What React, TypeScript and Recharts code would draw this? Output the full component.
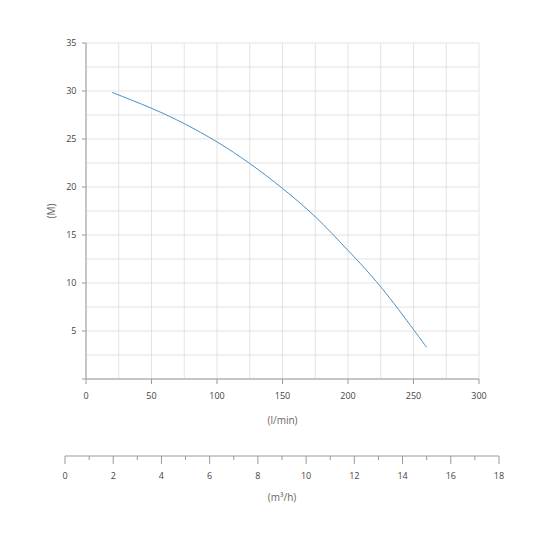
import React from 'react';
import { LineChart, Line, XAxis, YAxis, CartesianGrid } from 'recharts';

// pump curve: flow (l/min) vs head (M)
const flowLpm = [20, 50, 75, 100, 125, 150, 175, 200, 225, 250, 260];
const headM = [29.85, 28.2, 26.6, 24.7, 22.45, 19.85, 16.9, 13.4, 9.6, 5.15, 3.3];

const flowTicks = [0, 25, 50, 75, 100, 125, 150, 175, 200, 225, 250, 275, 300];
const headTicks = [0, 2.5, 5, 7.5, 10, 12.5, 15, 17.5, 20, 22.5, 25, 27.5, 30, 32.5, 35];
const cubicTicks = [0, 1, 2, 3, 4, 5, 6, 7, 8, 9, 10, 11, 12, 13, 14, 15, 16, 17, 18];

const chartData = flowLpm.map((q, i) => ({ flow: q, head: headM[i] }));

const FONT = '"Open Sans", sans-serif';
const AXIS = '#9a9a9a';
const GRID = '#e3e3e3';
const TICK_TEXT = '#444';
const LABEL_TEXT = '#666';
const TICK_SIZE = 4;
const TICK_MARGIN = 2;

function FlowTick(props: any) {
  const { x, y, payload } = props;
  if (payload.value % 50 !== 0) return <g />;
  const axisY = y - TICK_SIZE - TICK_MARGIN;
  return (
    <g>
      <line x1={x} y1={axisY} x2={x} y2={axisY + 5} stroke={AXIS} />
      <text x={x} y={axisY + 20} textAnchor="middle" fontSize={9} fill={TICK_TEXT} fontFamily={FONT}>
        {payload.value}
      </text>
    </g>
  );
}

function HeadTick(props: any) {
  const { x, y, payload } = props;
  if (payload.value % 5 !== 0) return <g />;
  const axisX = x + TICK_SIZE + TICK_MARGIN;
  return (
    <g>
      <line x1={axisX - 4} y1={y} x2={axisX} y2={y} stroke={AXIS} />
      {payload.value !== 0 && (
        <text x={axisX - 9.5} y={y + 3.2} textAnchor="end" fontSize={9} fill={TICK_TEXT} fontFamily={FONT}>
          {payload.value}
        </text>
      )}
    </g>
  );
}

function CubicTick(props: any) {
  const { x, y, payload } = props;
  const axisY = y - TICK_SIZE - TICK_MARGIN;
  const major = payload.value % 2 === 0;
  return (
    <g>
      <line x1={x} y1={axisY} x2={x} y2={axisY + (major ? 8 : 4)} stroke={AXIS} />
      {major && (
        <text x={x} y={axisY + 22.6} textAnchor="middle" fontSize={9} fill={TICK_TEXT} fontFamily={FONT}>
          {payload.value}
        </text>
      )}
    </g>
  );
}

export default function App() {
  return (
    <div style={{ position: 'absolute', left: 0, top: 0, width: 544, height: 544, background: '#fff' }}>
      <div style={{ position: 'absolute', left: 0, top: 0 }}>
        <LineChart width={544} height={430} data={chartData} margin={{ top: 43, right: 65, bottom: 21, left: 30 }}>
          <CartesianGrid stroke={GRID} />
          <XAxis
            dataKey="flow"
            type="number"
            domain={[0, 300]}
            ticks={flowTicks}
            interval={0}
            stroke={AXIS}
            tickLine={false}
            tickSize={TICK_SIZE}
            tickMargin={TICK_MARGIN}
            tick={<FlowTick />}
            label={{ value: '(l/min)', position: 'bottom', offset: 8, fontSize: 10, fill: LABEL_TEXT, fontFamily: FONT }}
          />
          <XAxis xAxisId="top" orientation="top" type="number" domain={[0, 300]} height={0} tick={false} tickLine={false} stroke={AXIS} />
          <YAxis
            type="number"
            domain={[0, 35]}
            ticks={headTicks}
            interval={0}
            width={56}
            stroke={AXIS}
            tickLine={false}
            tickSize={TICK_SIZE}
            tickMargin={TICK_MARGIN}
            tick={<HeadTick />}
            label={{ value: '(M)', angle: -90, position: 'insideLeft', offset: 21, fontSize: 10, fill: LABEL_TEXT, fontFamily: FONT, style: { textAnchor: 'middle' } }}
          />
          <YAxis yAxisId="right" orientation="right" type="number" domain={[0, 35]} width={0} tick={false} tickLine={false} stroke={AXIS} />
          <Line
            type="natural"
            dataKey="head"
            stroke="#4a8fc4"
            strokeWidth={1}
            dot={false}
            isAnimationActive={false}
          />
        </LineChart>
      </div>
      <div style={{ position: 'absolute', left: 0, top: 430 }}>
        <LineChart width={544} height={100} data={[]} margin={{ top: 16, right: 45, bottom: 44, left: 65 }}>
          <XAxis
            dataKey="m3h"
            type="number"
            domain={[0, 18]}
            allowDataOverflow
            ticks={cubicTicks}
            interval={0}
            stroke={AXIS}
            tickLine={false}
            tickSize={TICK_SIZE}
            tickMargin={TICK_MARGIN}
            tick={<CubicTick />}
            label={{ value: '(m³/h)', position: 'bottom', offset: 8, fontSize: 10, fill: LABEL_TEXT, fontFamily: FONT }}
          />
        </LineChart>
      </div>
    </div>
  );
}
